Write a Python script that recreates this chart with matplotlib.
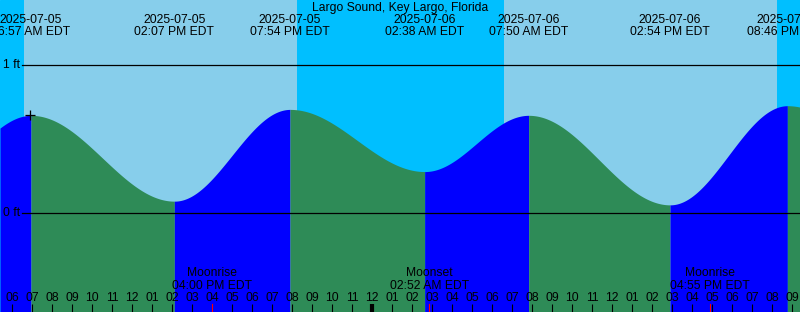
import matplotlib
matplotlib.use('Agg')
import matplotlib.pyplot as plt
import matplotlib.transforms as mtrans
import numpy as np
import pandas as pd

# Данные графика приливов
station = 'Largo Sound, Key Largo, Florida'
base = pd.Timestamp('2025-07-05 00:00')
view_start = '2025-07-05 05:24'
view_end = '2025-07-06 21:24'

# экстремумы (первый и последний за краем графика)
tide_times = ['2025-07-05 01:50', '2025-07-05 06:57', '2025-07-05 14:07',
              '2025-07-05 19:54', '2025-07-06 02:38', '2025-07-06 07:50',
              '2025-07-06 14:54', '2025-07-06 20:46', '2025-07-07 03:25']
tide_heights = [0.25, 0.66, 0.08, 0.70, 0.28, 0.66, 0.055, 0.725, 0.30]

sunrise = ['2025-07-05 06:36', '2025-07-06 06:36']
sunset = ['2025-07-05 20:15', '2025-07-06 20:15']

moon_times = ['2025-07-05 16:00', '2025-07-06 02:52', '2025-07-06 16:55']
moon_events = ['Moonrise', 'Moonset', 'Moonrise']

now_time = '2025-07-05 06:54'
level_lines = [1, 0]


def hrs(s):
    return (pd.Timestamp(s) - base) / pd.Timedelta(hours=1)


W, H = 800, 312
fig = plt.figure(figsize=(W / 100, H / 100), dpi=100)
ax = fig.add_axes([0, 0, 1, 1])
x0, x1 = hrs(view_start), hrs(view_end)
ybot, ytop = -99 / 148, 213 / 148
ax.set_xlim(x0, x1)
ax.set_ylim(ybot, ytop)
ax.axis('off')
plt.rcParams['font.family'] = ['Liberation Sans', 'DejaVu Sans']
fs = 8.7

# небо: ночь / день
ax.add_patch(plt.Rectangle((x0, ybot), x1 - x0, ytop - ybot, color='#00BFFF', zorder=0))
for r, s in zip(sunrise, sunset):
    ax.axvspan(hrs(r), hrs(s), color='#87CEEB', lw=0, zorder=1)

# кривая прилива между экстремумами
T = np.array([hrs(t) for t in tide_times])
Hh = np.array(tide_heights)


def level(t):
    i = np.clip(np.searchsorted(T, t, side='right') - 1, 0, len(T) - 2)
    f = (t - T[i]) / (T[i + 1] - T[i])
    return Hh[i] + (Hh[i + 1] - Hh[i]) * (1 - np.cos(np.pi * f)) / 2


for i in range(len(T) - 1):
    a, b = max(T[i], x0), min(T[i + 1], x1)
    if a >= b:
        continue
    t = np.linspace(a, b, 300)
    col = '#0000FF' if Hh[i + 1] > Hh[i] else '#2E8B57'
    ax.fill_between(t, ybot, level(t), color=col, lw=0, zorder=2)

# линии уровня
for lv in level_lines:
    ax.plot([hrs(view_start) + 22 / 20, x1], [lv, lv], color='black', lw=0.9, zorder=3)
    ax.text(x0 + 20 / 20, lv, f'{lv} ft', ha='right', va='center', fontsize=fs, zorder=4)

ax.plot(hrs(now_time), level(np.array([hrs(now_time)]))[0], marker='+', color='black',
        ms=7, mew=0.9, zorder=4)

trans = mtrans.blended_transform_factory(ax.transData, fig.transFigure)


def yf(px):
    return 1 - px / H


ax.text((x0 + x1) / 2, yf(8), station, ha='center', va='center', fontsize=fs, transform=trans)
for t in tide_times:
    ts = pd.Timestamp(t)
    xt = hrs(t)
    if x0 <= xt <= x1:
        ax.text(xt, yf(20), ts.strftime('%Y-%m-%d'), ha='center', va='center', fontsize=fs,
                transform=trans, zorder=5)
        ax.text(xt, yf(32), ts.strftime('%I:%M %p EDT'), ha='center', va='center',
                fontsize=fs, transform=trans, zorder=5)

# отметки часов
for h in range(int(np.ceil(x0)), int(x1) + 1):
    lab = '%02d' % ((h - 1) % 12 + 1)
    ax.text(h, yf(298), lab, ha='center', va='center', fontsize=fs, transform=trans, zorder=5)
    lw = 3 if h % 24 == 0 else 0.8
    ax.plot([h, h], [yf(304), yf(312)], color='black', lw=lw, transform=trans, zorder=5,
            solid_capstyle='butt')

# события луны
for t, ev in zip(moon_times, moon_events):
    xt = hrs(t)
    ax.text(xt, yf(273), ev, ha='center', va='center', fontsize=fs, transform=trans, zorder=5)
    ax.text(xt, yf(286), pd.Timestamp(t).strftime('%I:%M %p EDT'), ha='center', va='center',
            fontsize=fs, transform=trans, zorder=5)
    ax.plot([xt, xt], [yf(304), yf(312)], color='red', lw=0.8, transform=trans, zorder=6)

fig.savefig('out.png', dpi=100)
